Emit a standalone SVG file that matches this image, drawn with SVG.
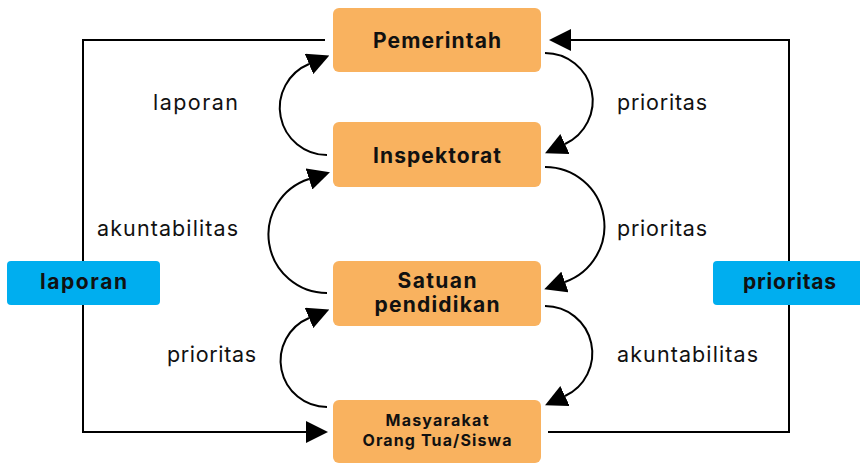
<svg xmlns="http://www.w3.org/2000/svg" width="860" height="464" viewBox="0 0 860 464">
  <style>
    .node rect { fill: #F9B25F; }
    .tag rect { fill: #00AEEF; }
    .title { font-family: Inter, "Open Sans", "DejaVu Sans", sans-serif; font-weight: 700; font-size: 21px; fill: #111; text-anchor: middle; }
    .small { font-size: 16px; }
    .lbl { font-family: Inter, "Open Sans", "DejaVu Sans", sans-serif; font-size: 21.5px; fill: #111; }
    .edge { fill: none; stroke: #000; stroke-width: 2; }
  </style>
  <defs>
    <marker id="head" viewBox="0 0 22 22" refX="0" refY="11" markerWidth="22" markerHeight="22" markerUnits="userSpaceOnUse" orient="auto">
      <path d="M0,0 L22,11 L0,22 Z" fill="#000"/>
    </marker>
  </defs>

  <!-- connectors -->
  <g id="connectors">
    <!-- outer feedback loops -->
    <path class="edge" d="M325 40 H83 V432 H306" marker-end="url(#head)"/>
    <path class="edge" d="M548 432 H789 V40 H571" marker-end="url(#head)"/>
    <!-- upward arcs on the left -->
    <path class="edge" d="M327 155 A47.3 47.3 0 0 1 309 64" marker-end="url(#head)"/>
    <path class="edge" d="M327 293 A58.4 58.4 0 0 1 309 179" marker-end="url(#head)"/>
    <path class="edge" d="M327 407 A46.3 46.3 0 0 1 309 318" marker-end="url(#head)"/>
    <!-- downward arcs on the right -->
    <path class="edge" d="M545 53 A47.7 47.7 0 0 1 565 144" marker-end="url(#head)"/>
    <path class="edge" d="M545 167 A59.2 59.2 0 0 1 565 282" marker-end="url(#head)"/>
    <path class="edge" d="M545 306 A47.2 47.2 0 0 1 565 396" marker-end="url(#head)"/>
  </g>

  <!-- edge labels -->
  <g id="labels">
    <text class="lbl" x="153" y="109.5" textLength="85" lengthAdjust="spacing">laporan</text>
    <text class="lbl" x="97" y="236" textLength="141" lengthAdjust="spacing">akuntabilitas</text>
    <text class="lbl" x="167" y="361.5" textLength="89" lengthAdjust="spacing">prioritas</text>
    <text class="lbl" x="617" y="109.5" textLength="90" lengthAdjust="spacing">prioritas</text>
    <text class="lbl" x="617" y="236" textLength="90" lengthAdjust="spacing">prioritas</text>
    <text class="lbl" x="617" y="361.5" textLength="141" lengthAdjust="spacing">akuntabilitas</text>
  </g>

  <!-- side tags -->
  <g id="tag-laporan" class="tag">
    <rect x="7" y="261" width="153" height="44" rx="4"/>
    <text class="title" x="83.5" y="288.5" textLength="87" lengthAdjust="spacing">laporan</text>
  </g>
  <g id="tag-prioritas" class="tag">
    <rect x="713" y="261" width="153" height="44" rx="4"/>
    <text class="title" x="789.5" y="288.5" textLength="93" lengthAdjust="spacing">prioritas</text>
  </g>

  <!-- nodes -->
  <g id="pemerintah" class="node">
    <rect x="333" y="8" width="208" height="64" rx="6"/>
    <text class="title" x="437" y="48" textLength="128" lengthAdjust="spacing">Pemerintah</text>
  </g>
  <g id="inspektorat" class="node">
    <rect x="333" y="122" width="208" height="65" rx="6"/>
    <text class="title" x="437" y="162.5" textLength="128" lengthAdjust="spacing">Inspektorat</text>
  </g>
  <g id="satuan-pendidikan" class="node">
    <rect x="333" y="261" width="208" height="65" rx="6"/>
    <text class="title" x="437" y="287.5" textLength="79" lengthAdjust="spacing">Satuan</text>
    <text class="title" x="437" y="311.5" textLength="125" lengthAdjust="spacing">pendidikan</text>
  </g>
  <g id="masyarakat" class="node">
    <rect x="333" y="400" width="208" height="63" rx="6"/>
    <text class="title small" x="437" y="425.5" textLength="103" lengthAdjust="spacing">Masyarakat</text>
    <text class="title small" x="437" y="446" textLength="149" lengthAdjust="spacing">Orang Tua/Siswa</text>
  </g>
</svg>
